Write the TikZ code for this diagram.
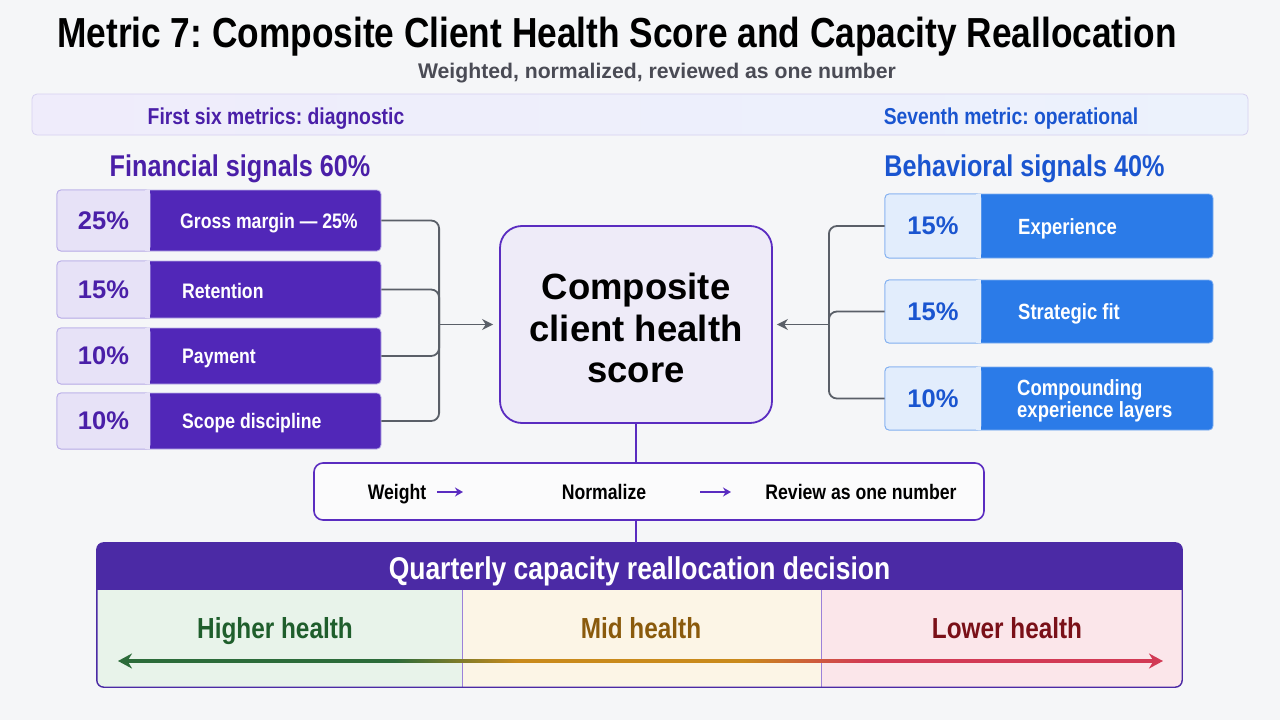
\documentclass[tikz,border=0pt]{standalone}
\usepackage{fontspec}
\setmainfont{Liberation Sans}[FakeStretch=0.84]
\newfontfamily\widefont{Liberation Sans}
\usetikzlibrary{arrows.meta,positioning}
\frenchspacing

\definecolor{bgcol}{HTML}{F5F6F8}
\definecolor{finpurple}{HTML}{5127B8}
\definecolor{finlight}{HTML}{E7E2F7}
\definecolor{finline}{HTML}{B9ADE8}
\definecolor{fintext}{HTML}{4A1FA8}
\definecolor{behblue}{HTML}{2B7BE8}
\definecolor{behlight}{HTML}{E2EDFC}
\definecolor{behline}{HTML}{7FAEF0}
\definecolor{behtext}{HTML}{1A55D0}
\definecolor{conngray}{HTML}{5A5F68}
\definecolor{scorefill}{HTML}{EEEBF8}
\definecolor{edgepurple}{HTML}{5A2CC0}
\definecolor{decpurple}{HTML}{4B2AA5}
\definecolor{hifill}{HTML}{E8F3EA}
\definecolor{midfill}{HTML}{FCF5E6}
\definecolor{lofill}{HTML}{FBE6EA}
\definecolor{higreen}{HTML}{1F5E2C}
\definecolor{midbrown}{HTML}{8A5A0C}
\definecolor{lored}{HTML}{7A1018}
\definecolor{scalegreen}{HTML}{2C6B3A}
\definecolor{scaleorange}{HTML}{C98A1C}
\definecolor{scalered}{HTML}{D23A55}
\definecolor{bannerl}{HTML}{EFECFB}
\definecolor{bannerr}{HTML}{ECF2FC}
\definecolor{bannerline}{HTML}{D6D0F0}
\definecolor{subgray}{HTML}{4A4B55}

% green -> orange -> red along the scale (path spans 25bp..75bp)
\pgfdeclarehorizontalshading{healthscale}{100bp}{color(0bp)=(scalegreen); color(38bp)=(scalegreen);
  color(44bp)=(scaleorange); color(55bp)=(scaleorange); color(61bp)=(scalered); color(100bp)=(scalered)}

\tikzset{
  caps/.style={inner sep=0pt, text height=#1, text depth=0pt},
  finbox/.style={rectangle, rounded corners=4pt, fill=finpurple, draw=finline, line width=0.8pt, minimum width=324pt, inner sep=0pt},
  finpct/.style={rectangle, rounded corners=4pt, fill=finlight, draw=finline, line width=0.8pt, minimum width=93pt, inner sep=0pt, text=fintext, font=\widefont\bfseries\fontsize{25.5}{28}\selectfont},
  finlabel/.style={anchor=west, caps=15pt, text=white, font=\bfseries\fontsize{21}{24}\selectfont},
  behbox/.style={rectangle, rounded corners=4pt, fill=behblue, draw=behline, line width=0.8pt, minimum width=328pt, inner sep=0pt},
  behpct/.style={rectangle, rounded corners=4pt, fill=behlight, draw=behline, line width=0.8pt, minimum width=96pt, inner sep=0pt, text=behtext, font=\widefont\bfseries\fontsize{25.5}{28}\selectfont},
  behlabel/.style={anchor=west, caps=15.8pt, text=white, font=\bfseries\fontsize{22}{22}\selectfont},
  conn/.style={conngray, line width=1.8pt},
  stem/.style={edgepurple, line width=1.6pt},
  steparrow/.style={edgepurple, line width=1.6pt, -{Stealth[length=8pt,width=9pt]}},
  steptext/.style={caps=15pt, font=\bfseries\fontsize{21}{24}\selectfont},
  collabel/.style={caps=20.8pt, font=\bfseries\fontsize{29}{30}\selectfont}
}

\begin{document}
\begin{tikzpicture}[x=1pt,y=-1pt]
  \useasboundingbox (0,0) rectangle (1280,720);
  \fill[bgcol] (0,0) rectangle (1280,720);

  % title
  \node[caps=30pt, font=\bfseries\fontsize{42}{44}\selectfont] (title) at (617,32.5) {Metric 7: Composite Client Health Score and Capacity Reallocation};
  \node[caps=15pt, text=subgray, font=\widefont\bfseries\fontsize{21.2}{22}\selectfont] (sub) at (657,71) {Weighted, normalized, reviewed as one number};

  % banner
  \shadedraw[left color=bannerl, right color=bannerr, draw=bannerline, line width=0.8pt, rounded corners=5pt] (32,94) rectangle (1248,135);
  \node[caps=16.5pt, text=fintext, font=\bfseries\fontsize{23}{24}\selectfont] (diag) at (276,116) {First six metrics: diagnostic};
  \node[caps=16.5pt, text=behtext, font=\bfseries\fontsize{23}{24}\selectfont] (oper) at (1011,116) {Seventh metric: operational};

  \node[caps=21.5pt, text=fintext, font=\bfseries\fontsize{30}{30}\selectfont] (finhead) at (240,166) {Financial signals 60\%};
  \node[caps=21.5pt, text=behtext, font=\bfseries\fontsize{30}{30}\selectfont] (behhead) at (1024.5,166) {Behavioral signals 40\%};

  % financial signals
  \node[finbox, minimum height=61pt] (gm) at (219,220.5) {};
  \node[finpct, minimum height=61pt, anchor=west] (gmp) at (gm.west) {25\%};
  \fill[finlight] ([xshift=-5pt,yshift=-0.4pt]gmp.north east) rectangle ([yshift=0.4pt]gmp.south east);
  \node[finlabel] (gml) at (180,221) {Gross margin — 25\%};

  \node[finbox, minimum height=57pt] (rt) at (219,289.5) {};
  \node[finpct, minimum height=57pt, anchor=west] (rtp) at (rt.west) {15\%};
  \fill[finlight] ([xshift=-5pt,yshift=-0.4pt]rtp.north east) rectangle ([yshift=0.4pt]rtp.south east);
  \node[finlabel] (rtl) at (182,291) {Retention};

  \node[finbox, minimum height=56pt] (pm) at (219,356) {};
  \node[finpct, minimum height=56pt, anchor=west] (pmp) at (pm.west) {10\%};
  \fill[finlight] ([xshift=-5pt,yshift=-0.4pt]pmp.north east) rectangle ([yshift=0.4pt]pmp.south east);
  \node[finlabel] (pml) at (182,356) {Payment};

  \node[finbox, minimum height=56pt] (sd) at (219,421) {};
  \node[finpct, minimum height=56pt, anchor=west] (sdp) at (sd.west) {10\%};
  \fill[finlight] ([xshift=-5pt,yshift=-0.4pt]sdp.north east) rectangle ([yshift=0.4pt]sdp.south east);
  \node[finlabel] (sdl) at (182,421) {Scope discipline};

  % composite score
  \node[rectangle, rounded corners=22pt, fill=scorefill, draw=edgepurple, line width=1.8pt,
        minimum width=272pt, minimum height=197pt] (score) at (636,324.5) {};
  \node[align=center, font=\widefont\bfseries\fontsize{36.5}{41.5}\selectfont] (scoretxt) at (636,328) {Composite\\client health\\score};

  % behavioral signals
  \node[behbox, minimum height=64pt] (ex) at (1049,226) {};
  \node[behpct, minimum height=64pt, anchor=west] (exp) at (ex.west) {15\%};
  \fill[behlight] ([xshift=-5pt,yshift=-0.4pt]exp.north east) rectangle ([yshift=0.4pt]exp.south east);
  \node[behlabel] (exl) at (1018,227) {Experience};

  \node[behbox, minimum height=63pt] (sf) at (1049,311.5) {};
  \node[behpct, minimum height=63pt, anchor=west] (sfp) at (sf.west) {15\%};
  \fill[behlight] ([xshift=-5pt,yshift=-0.4pt]sfp.north east) rectangle ([yshift=0.4pt]sfp.south east);
  \node[behlabel] (sfl) at (1018,311.5) {Strategic fit};

  \node[behbox, minimum height=63pt] (cl) at (1049,398.5) {};
  \node[behpct, minimum height=63pt, anchor=west] (clp) at (cl.west) {10\%};
  \fill[behlight] ([xshift=-5pt,yshift=-0.4pt]clp.north east) rectangle ([yshift=0.4pt]clp.south east);
  \node[anchor=west, inner sep=0pt, text=white, align=left, font=\bfseries\fontsize{22}{22}\selectfont] (cll) at (1017,401) {Compounding\\experience layers};

  % buses into the score
  \path (score.west) ++(-60,0) coordinate (lbus);
  \path (score.east) ++(56,0) coordinate (rbus);
  \draw[conn, rounded corners=8pt] (gm.east) -| (lbus);
  \draw[conn, rounded corners=8pt] (rt.east) -| (lbus);
  \draw[conn, rounded corners=8pt] (pm.east) -| (lbus);
  \draw[conn, rounded corners=8pt] (sd.east) -| (lbus);
  \draw[conn, -{Stealth[length=11pt,width=11pt]}, shorten >=6pt] (lbus) -- (score.west);
  \draw[conn, rounded corners=8pt] (ex.west) -| (rbus);
  \draw[conn, rounded corners=8pt] (sf.west) -| (rbus);
  \draw[conn, rounded corners=8pt] (cl.west) -| (rbus);
  \draw[conn, -{Stealth[length=11pt,width=11pt]}, shorten >=4pt] (rbus) -- (score.east);

  % process strip
  \node[rectangle, rounded corners=9pt, fill=white!60!bgcol, draw=edgepurple, line width=1.6pt,
        minimum width=670pt, minimum height=57pt] (proc) at (649,491.5) {};
  \node[steptext] (wt) at (397,492) {Weight};
  \node[steptext] (nz) at (604,492) {Normalize};
  \node[steptext] (rv) at (861,492) {Review as one number};
  \coordinate (s1a) at (437,492);
  \coordinate (s1b) at (463,492);
  \coordinate (s2a) at (700,492);
  \coordinate (s2b) at (731,492);
  \draw[steparrow] (s1a) -- (s1b);
  \draw[steparrow] (s2a) -- (s2b);

  % decision
  \node[rectangle, minimum width=1085pt, minimum height=144pt] (dec) at (639.5,615) {};
  \begin{scope}
    \clip[rounded corners=7pt] (dec.north west) rectangle (dec.south east);
    \fill[hifill] (97,590) rectangle (462,687);
    \fill[midfill] (462,590) rectangle (821,687);
    \fill[lofill] (821,590) rectangle (1182,687);
    \fill[decpurple] (97,543) rectangle (1182,590);
  \end{scope}
  \node[caps=22.6pt, text=white, font=\bfseries\fontsize{31.5}{32}\selectfont] (dech) at (639.5,568) {Quarterly capacity reallocation decision};
  \draw[edgepurple!60, line width=0.6pt] (462,590) -- (462,687);
  \draw[edgepurple!60, line width=0.6pt] (821,590) -- (821,687);
  \draw[decpurple, line width=1.4pt, rounded corners=7pt] (dec.north west) rectangle (dec.south east);

  \node[collabel, text=higreen] (hi) at (275,628) {Higher health};
  \node[collabel, text=midbrown] (md) at (641,628) {Mid health};
  \node[collabel, text=lored] (lw) at (1007,628) {Lower health};

  \coordinate (sl) at (118,661);
  \coordinate (sr) at (1163,661);
  \shade[shading=healthscale] (128,659.3) rectangle (1153,662.7);
  \draw[scalegreen, line width=3.4pt, -{Stealth[length=14pt,width=15pt]}] (134,661) -- (sl);
  \draw[scalered, line width=3.4pt, -{Stealth[length=14pt,width=15pt]}] (1147,661) -- (sr);

  % stems
  \draw[stem] (score.south) -- (score.south |- proc.north);
  \draw[stem] (score.south |- proc.south) -- (score.south |- dec.north);
\end{tikzpicture}
\end{document}
